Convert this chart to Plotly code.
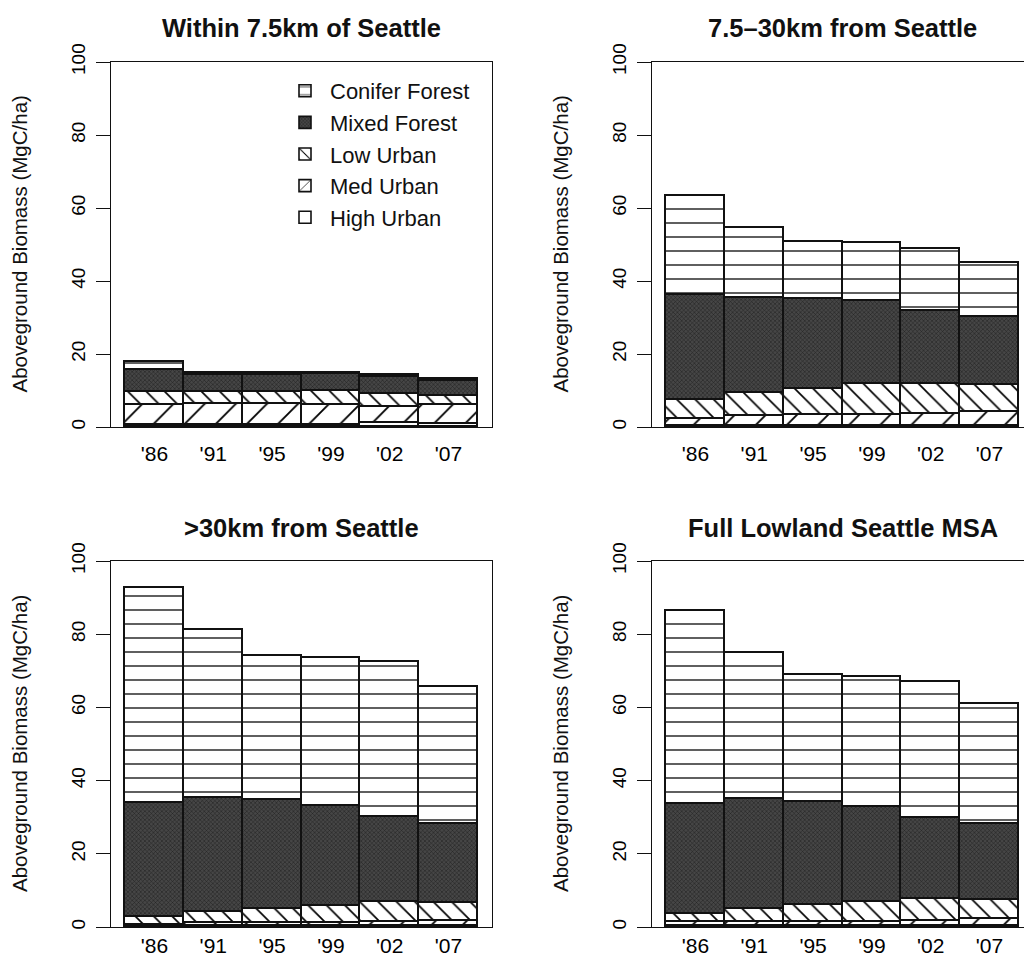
import plotly.graph_objects as go

# ---------------- data (MgC/ha, segment values, bottom -> top) ----------------
years = ["'86", "'91", "'95", "'99", "'02", "'07"]
classes = ["High Urban", "Med Urban", "Low Urban", "Mixed Forest", "Conifer Forest"]
panel_titles = ["Within 7.5km of Seattle", "7.5\u201330km from Seattle",
                ">30km from Seattle", "Full Lowland Seattle MSA"]

# Within 7.5km
p1_high = [0.6, 0.6, 0.6, 0.6, 1.2, 0.7]
p1_med = [5.5, 5.8, 5.8, 5.4, 4.4, 5.2]
p1_low = [3.5, 3.1, 3.3, 4.0, 3.5, 2.5]
p1_mixed = [6.1, 4.8, 4.6, 4.4, 4.7, 4.2]
p1_conifer = [2.1, 0.5, 0.6, 0.5, 0.5, 0.6]

# 7.5-30km
p2_high = [0.2, 0.2, 0.2, 0.2, 0.2, 0.2]
p2_med = [2.1, 2.9, 3.2, 3.0, 3.4, 4.0]
p2_low = [5.2, 6.2, 7.1, 8.6, 8.3, 7.3]
p2_mixed = [28.7, 26.1, 24.7, 22.7, 19.9, 18.7]
p2_conifer = [27.1, 19.0, 15.5, 15.9, 17.1, 14.6]

# >30km
p3_high = [0.1, 0.3, 0.3, 0.3, 0.3, 0.3]
p3_med = [0.4, 0.8, 0.8, 0.8, 1.1, 1.3]
p3_low = [2.1, 3.0, 3.7, 4.65, 5.3, 5.0]
p3_mixed = [31.2, 31.1, 29.9, 27.35, 23.3, 21.5]
p3_conifer = [58.7, 45.9, 39.4, 40.5, 42.4, 37.5]

# Full lowland MSA
p4_high = [0.3, 0.3, 0.3, 0.3, 0.3, 0.3]
p4_med = [1.0, 1.0, 1.0, 1.0, 1.3, 1.9]
p4_low = [2.3, 3.7, 4.6, 5.5, 6.1, 5.2]
p4_mixed = [30.1, 29.9, 28.3, 26.0, 22.2, 20.8]
p4_conifer = [52.7, 40.1, 34.6, 35.6, 37.1, 32.6]

y_ticks = [0, 20, 40, 60, 80, 100]

panels = [
    [p1_high, p1_med, p1_low, p1_mixed, p1_conifer],
    [p2_high, p2_med, p2_low, p2_mixed, p2_conifer],
    [p3_high, p3_med, p3_low, p3_mixed, p3_conifer],
    [p4_high, p4_med, p4_low, p4_mixed, p4_conifer],
]

# ---------------- styling ----------------
W, H = 1024, 965
FONT = "Liberation Sans, Arial, Helvetica, sans-serif"
INK = "#111111"


def px(sx):
    return sx / W


def py(sy):
    return 1 - sy / H


styles = {
    "High Urban": dict(color="white", pattern=dict(shape="")),
    "Med Urban": dict(color="white", pattern=dict(shape="/", fgcolor="black", bgcolor="white",
                                                  fgopacity=1, size=22, solidity=0.085)),
    "Low Urban": dict(color="white", pattern=dict(shape="\\", fgcolor="black", bgcolor="white",
                                                  fgopacity=1, size=13, solidity=0.13)),
    "Mixed Forest": dict(color="#3c3c3c", pattern=dict(shape="x", fgcolor="#1c1c1c",
                                                       bgcolor="#464646", fgopacity=1,
                                                       size=3, solidity=0.3)),
    "Conifer Forest": dict(color="white", pattern=dict(shape="-", fgcolor="black", bgcolor="white",
                                                       fgopacity=1, size=14, solidity=0.09)),
}

# screen-pixel geometry of plot boxes (left, right, top, bottom)
px_per_unit = 58.8
boxes = [
    (111, 492, 62, 427),
    (652, 1033, 62, 427),
    (111, 492, 561, 927),
    (652, 1033, 561, 927),
]
xlabel_standoff = [8, 8, 0, 0]
title_y = [28, 28, 528, 528]

fig = go.Figure()

for i, (segs, box) in enumerate(zip(panels, boxes)):
    n = i + 1
    xa = "x" if n == 1 else f"x{n}"
    ya = "y" if n == 1 else f"y{n}"
    for cls, vals in zip(classes, segs):
        st = styles[cls]
        fig.add_trace(go.Bar(
            x=years, y=vals, name=cls, xaxis=xa, yaxis=ya,
            width=1.0,
            marker=dict(color=st["color"], pattern=st["pattern"],
                        line=dict(color=INK, width=1.6)),
            showlegend=(n == 1), legendgroup=cls,
            hovertemplate=cls + " %{x}: %{y}<extra></extra>",
        ))

    l, r, t, b = box
    r_vis = min(r, W)
    xmax = -0.74 + (r_vis - l) / px_per_unit
    fig.layout[("xaxis" if n == 1 else f"xaxis{n}")] = dict(
        domain=[px(l), px(r_vis)], anchor=ya, range=[-0.74, xmax], type="category",
        showline=True, linecolor=INK, linewidth=1, mirror=True,
        ticks="", showgrid=False, zeroline=False, automargin=False,
        tickfont=dict(family=FONT, size=21, color="black"),
        ticklabelstandoff=xlabel_standoff[i], fixedrange=True,
    )
    fig.layout[("yaxis" if n == 1 else f"yaxis{n}")] = dict(
        domain=[py(b), py(t)], anchor=xa, range=[0, 100],
        tickvals=y_ticks, ticktext=[str(v) for v in y_ticks],
        tickangle=-90, ticks="outside", ticklen=14, tickwidth=1, tickcolor=INK,
        showline=True, linecolor=INK, linewidth=1, mirror=(r <= W),
        showgrid=False, zeroline=False, automargin=False,
        tickfont=dict(family=FONT, size=19, color="black"),
        ticklabelstandoff=3, fixedrange=True,
    )

    # panel title
    cx = (l + r) / 2
    fig.add_annotation(
        x=px(cx), y=py(title_y[i]), xref="paper", yref="paper",
        text=f"<b>{panel_titles[i]}</b>", showarrow=False,
        font=dict(family=FONT, size=25.5, color="#111111"),
        xanchor="center", yanchor="middle",
    )
    # y-axis title
    fig.add_annotation(
        x=px(l - 92), y=py((t + b) / 2), xref="paper", yref="paper",
        text="Aboveground Biomass (MgC/ha)", textangle=-90, showarrow=False,
        font=dict(family=FONT, size=20.5, color="#111111"),
        xanchor="center", yanchor="middle",
    )

fig.update_layout(
    width=W, height=H,
    margin=dict(l=0, r=0, t=0, b=0, pad=0, autoexpand=False),
    barmode="stack", bargap=0,
    paper_bgcolor="white", plot_bgcolor="white",
    font=dict(family=FONT, color="black"),
    legend=dict(
        x=px(280), y=py(70), xanchor="left", yanchor="top",
        traceorder="reversed", bgcolor="rgba(0,0,0,0)", borderwidth=0,
        font=dict(family=FONT, size=22, color="#111111"),
        itemwidth=40,
        itemclick=False, itemdoubleclick=False,
    ),
)

fig.write_html(
    "out.html",
    config={"displayModeBar": False},
    post_script="document.body.style.margin='0';document.body.style.overflow='hidden';",
)
